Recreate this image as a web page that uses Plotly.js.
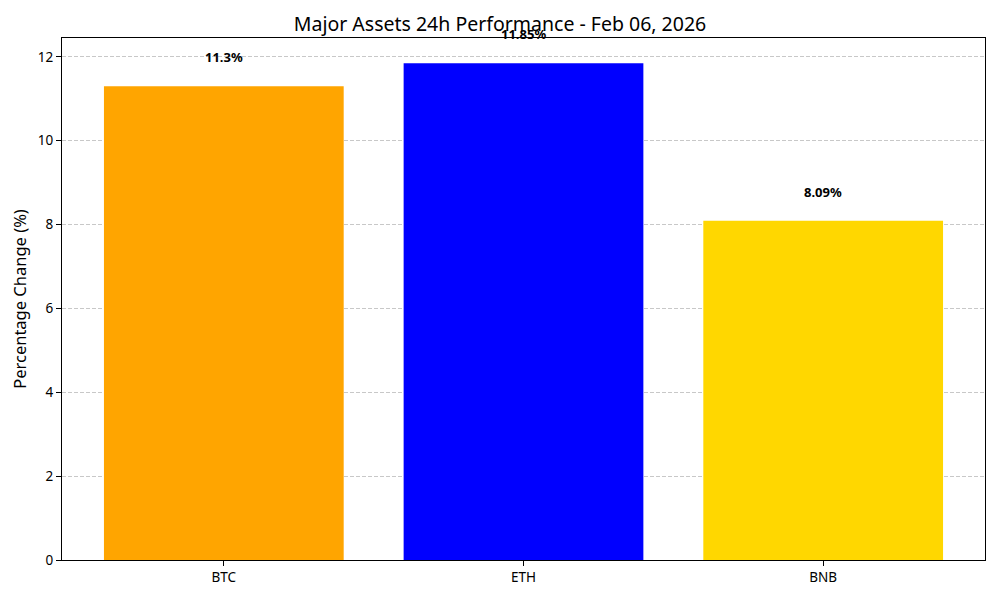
<!DOCTYPE html>
<html>
<head>
<meta charset="utf-8">
<script src="https://cdn.plot.ly/plotly-3.0.1.min.js"></script>
<style>html,body{margin:0;padding:0;background:#fff;}#chart{width:1000px;height:600px;}</style>
</head>
<body>
<div id="chart"></div>
<script>
const assets = ["BTC", "ETH", "BNB"];
const changes = [11.3, 11.85, 8.09];
const labels = ["11.3%", "11.85%", "8.09%"];
const colors = ["#FFA500", "#0000FF", "#FFD700"];
const yTicks = [0, 2, 4, 6, 8, 10, 12];

const FONT = "Noto Sans, DejaVu Sans, sans-serif";

const trace = {
  type: "bar",
  x: [0, 1, 2],
  y: changes,
  width: 0.8,
  marker: {color: colors, line: {width: 0}},
  hoverinfo: "none"
};

const annotations = changes.map((v, i) => ({
  x: i, y: v, xref: "x", yref: "y", yshift: 29,
  text: "<b>" + labels[i] + "</b>", showarrow: false,
  xanchor: "center", yanchor: "middle",
  font: {family: FONT, size: 13, color: "#000"}
}));

const layout = {
  width: 1000, height: 600,
  paper_bgcolor: "#fff", plot_bgcolor: "#fff",
  margin: {l: 62, r: 15, t: 38, b: 40, pad: 0},
  showlegend: false,
  title: {text: "Major Assets 24h Performance - Feb 06, 2026", x: 0.5, xanchor: "center", y: 0.96, yanchor: "middle",
    font: {family: FONT, size: 19.5, color: "#000"}},
  xaxis: {
    range: [-0.54, 2.54], tickvals: [0, 1, 2], ticktext: assets,
    ticks: "outside", ticklen: 5, tickwidth: 1, tickcolor: "#000",
    showline: true, linecolor: "#000", linewidth: 1, mirror: true,
    showgrid: false, zeroline: false,
    tickfont: {family: FONT, size: 13.5, color: "#000"}
  },
  yaxis: {
    range: [0, 12.45], tickvals: yTicks, ticktext: yTicks.map(String),
    ticks: "outside", ticklen: 5, tickwidth: 1, tickcolor: "#000",
    showline: true, linecolor: "#000", linewidth: 1, mirror: true,
    showgrid: true, gridcolor: "#c8c8c8", griddash: "4px,2px", gridwidth: 1,
    zeroline: false,
    tickfont: {family: FONT, size: 13.5, color: "#000"},
    title: {text: "Percentage Change (%)", standoff: 7, font: {family: FONT, size: 16.5, color: "#000"}}
  },
  annotations: annotations
};

Plotly.newPlot("chart", [trace], layout, {displayModeBar: false, staticPlot: true});
</script>
</body>
</html>
